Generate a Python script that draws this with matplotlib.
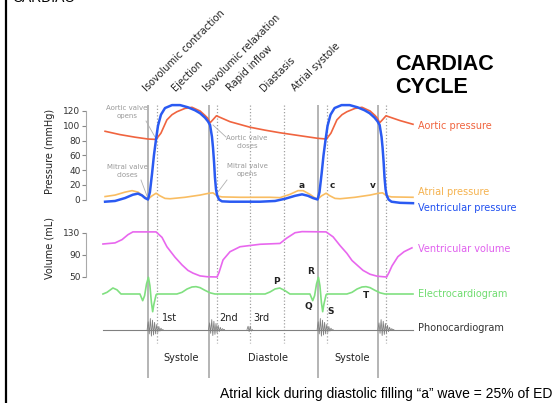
import matplotlib.pyplot as plt
from matplotlib.lines import Line2D

# time axis in ms (one heartbeat = 800 ms), pressures in mmHg, volume in mL
aortic_t = [-202, -132, -61, 0, 38, 61, 89, 113, 136, 174, 207, 245, 268, 282, 292, 305, 322,
            386, 480, 551, 621, 715, 798, 840, 861, 889, 913, 936, 974, 1007, 1045, 1068,
            1080, 1090, 1103, 1120, 1186, 1247]
aortic_p = [92.5, 88, 84.5, 82, 81.5, 90, 108, 115, 119, 123.5, 125, 120, 114, 110, 104, 108, 113.5,
            105.5, 98, 94, 90.5, 86.5, 83, 82, 90, 108, 115, 119, 123.5, 125, 120, 114,
            110, 104, 108, 113.5, 107, 102]

vent_t = [-202, -155, -108, -71, -47, -28, -14, 0, 9, 19, 28, 38, 47, 61, 80, 113, 151, 188,
          221, 245, 268, 282, 292, 301, 306, 311, 315, 320, 325, 334, 348, 386, 527, 598, 645,
          692, 725, 753, 776, 798, 807, 817, 826, 836, 845, 859, 878, 911, 949, 986, 1019,
          1043, 1066, 1080, 1090, 1099, 1104, 1109, 1113, 1118, 1123, 1132, 1146, 1186, 1247]
vent_p = [-3, -2, 2, 6.5, 8, 5.5, 2, 0, 10, 35, 60, 82, 100, 115, 124, 128, 128, 125,
          121, 117, 111, 106, 101, 85, 70, 50, 30, 14, 6, 0, -2.5, -3, -3, -2, 1,
          5, 7, 5, 2, 0, 10, 35, 60, 82, 100, 115, 124, 128, 128, 125, 121,
          117, 111, 106, 101, 85, 70, 50, 30, 14, 6, 0, -3, -4.5, -5]

atrial_t = [-202, -155, -108, -75, -47, -19, 0, 19, 38, 56, 80, 104, 174, 245, 287, 306, 325,
            348, 433, 574, 621, 668, 706, 730, 762, 786, 798, 817, 838, 856, 880, 904, 974,
            1045, 1085, 1104, 1123, 1146, 1247]
atrial_p = [4, 6, 10, 12, 10, 4, 0.5, 5, 8.5, 5, 1.5, 1, 3, 6, 8.5, 9, 5,
            3.5, 3, 3, 2.5, 7, 12, 12, 7, 2, 0.5, 5, 8.5, 5, 1.5, 1, 3,
            6, 8.5, 9, 5, 3.5, 3]

vol_t = [-212, -155, -122, -94, -71, 38, 66, 89, 127, 160, 188, 212, 245, 278, 325, 334, 353,
         386, 433, 527, 621, 654, 692, 725, 838, 871, 904, 936, 960, 983, 1012, 1045, 1078,
         1106, 1123, 1134, 1148, 1176, 1205, 1242]
vol_ml = [110, 112, 118, 127, 132, 132, 122, 105, 86, 72, 62, 57, 52, 50.5, 50, 58, 81,
          96, 105, 109.5, 111, 121, 130.5, 132.5, 132, 123, 107, 93, 80, 72, 62, 55, 51.5,
          50.5, 50, 58, 70, 87, 96, 103]

ecg_t = [-212, -193, -165, -146, -127, -38, -25, -16, -7, 2, 9, 16, 22, 28, 38, 42,
         136, 160, 184, 207, 226, 245, 268, 292, 315, 551, 574, 598, 620, 645, 668,
         762, 775, 784, 793, 802, 809, 816, 822, 828, 838, 842,
         936, 960, 984, 1007, 1026, 1045, 1068, 1092, 1115, 1247]
ecg_mv = [0, 0.1, 0.36, 0.25, 0, 0, -0.4, -0.1, 0.6, 1.0, 0.5, -0.5, -1.06, -0.6, -0.05, 0,
          0, 0.1, 0.3, 0.42, 0.44, 0.38, 0.22, 0.07, 0, 0, 0.12, 0.3, 0.36, 0.2, 0,
          0, -0.4, -0.1, 0.6, 1.0, 0.5, -0.5, -1.06, -0.6, -0.05, 0,
          0, 0.1, 0.3, 0.42, 0.44, 0.38, 0.22, 0.07, 0, 0]

# heart sounds: recorded burst shape and onset times
burst_dt = [0, 5, 10, 15, 20, 25, 30, 35, 40, 45, 50, 55, 60, 65, 70, 75]
s1_amp = [0, 0.7, -0.4, 1.0, -0.6, 0.85, -0.5, 0.65, -0.4, 0.45, -0.28, 0.28, -0.15, 0.12, -0.05, 0]
s2_amp = [0, 0.6, -0.35, 0.9, -0.55, 0.75, -0.45, 0.55, -0.32, 0.38, -0.2, 0.2, -0.1, 0.08, -0.03, 0]
s3_dt = [0, 5, 10, 15, 20, 25]
s3_amp = [0, 0.3, -0.2, 0.3, -0.15, 0]
s1_onsets = [-4, 796]
s2_onsets = [285, 1082]
s3_onsets = [466]

valve_solid = [0, 288, 798, 1084]
phase_dotted = [40, 325, 480, 640, 840, 1120]

W, H = 555, 403


def ms(x):
    # horizontal pixel -> time (ms)
    return (x - 148) * 800 / 170


fig = plt.figure(figsize=(W / 100, H / 100), dpi=100)
base = fig.add_axes([0, 0, 1, 1])
base.set_xlim(ms(0), ms(W))
base.set_ylim(H, 0)
base.axis('off')


def overlay(y0, v0, y1, v1):
    a = fig.add_axes([0, 0, 1, 1])
    scale = (y0 - y1) / (v1 - v0)
    a.set_xlim(ms(0), ms(W))
    a.set_ylim(v0 - (H - y0) / scale, v0 + y0 / scale)
    a.patch.set_visible(False)
    for s in a.spines.values():
        s.set_visible(False)
    a.set_xticks([])
    a.set_yticks([])
    return a


ax_p = overlay(199.5, 0, 111, 120)
ax_v = overlay(277, 50, 233, 130)
ax_e = overlay(294, 0, 277.3, 1.0)
ax_s = overlay(329.5, 0, 318.5, 1.0)

for a, ticks in ((ax_p, [0, 20, 40, 60, 80, 100, 120]), (ax_v, [50, 90, 130])):
    sp = a.spines['left']
    sp.set_visible(True)
    sp.set_position(('data', ms(86)))
    sp.set_bounds(ticks[0], ticks[-1])
    sp.set_color('#aaaaaa')
    sp.set_linewidth(0.8)
    a.set_yticks(ticks)
    a.tick_params(axis='y', direction='out', length=3, width=0.8, color='#888888',
                  labelcolor='#333333', labelsize=6.5, pad=1)

# valve / phase markers
base.vlines(valve_solid, 105, 378, color='#a0a0a0', lw=1.1, zorder=1)
base.vlines(phase_dotted, 105, 343, color='#a0a0a0', lw=0.9, linestyles=(0, (1, 1.6)), zorder=1)

# curves
ax_p.plot(aortic_t, aortic_p, color='#f0643f', lw=1.2, zorder=3)
ax_p.plot(atrial_t, atrial_p, color='#f9bd62', lw=1.2, zorder=3)
ax_p.plot(vent_t, vent_p, color='#2a5af2', lw=1.8, zorder=4)
ax_v.plot(vol_t, vol_ml, color='#e867ee', lw=1.2)
ax_e.plot(ecg_t, ecg_mv, color='#80e080', lw=1.2)
ax_s.plot([-212, 1247], [0, 0], color='#808080', lw=0.8)
for onsets, dt, amp in ((s1_onsets, burst_dt, s1_amp), (s2_onsets, burst_dt, s2_amp),
                        (s3_onsets, s3_dt, s3_amp)):
    for t0 in onsets:
        ax_s.plot([t0 + d for d in dt], amp, color='#808080', lw=0.6)

# axis titles
base.text(ms(50), 151, 'Pressure (mmHg)', rotation=90, ha='center', va='center',
          fontsize=7, color='#222222')
base.text(ms(50), 248, 'Volume (mL)', rotation=90, ha='center', va='center',
          fontsize=7, color='#222222')

# phase names along the top
phases = [('Isovolumic contraction', 148), ('Ejection', 177), ('Isovolumic relaxation', 208),
          ('Rapid inflow', 232), ('Diastasis', 265), ('Atrial systole', 297)]
for name, x in phases:
    base.text(ms(x), 93, name, rotation=45, rotation_mode='anchor', ha='left', va='bottom',
              fontsize=7, color='#222222')

# curve names on the right
right_labels = [('Aortic pressure', 126, '#f0643f'), ('Atrial pressure', 192, '#f5b24e'),
                ('Ventricular pressure', 208, '#2050f0'), ('Ventricular volume', 249, '#e060ee'),
                ('Electrocardiogram', 294, '#70dc70'), ('Phonocardiogram', 328, '#333333')]
for name, y, c in right_labels:
    base.text(ms(418), y, name, ha='left', va='center', fontsize=7, color=c)

# valve events
valve_notes = [('Aortic valve\nopens', 127, 112, (146, 121), (155, 137)),
               ('Aortic valve\ncloses', 247, 142, (213, 125), (226, 137)),
               ('Mitral valve\ncloses', 127, 171, (141, 180), (147, 196)),
               ('Mitral valve\nopens', 247, 170, (227, 180), (218, 192))]
for txt, x, y, p0, p1 in valve_notes:
    base.text(ms(x), y, txt, ha='center', va='center', fontsize=5, color='#9a9a9a',
              linespacing=1.3)
    base.plot([ms(p0[0]), ms(p1[0])], [p0[1], p1[1]], color='#b0b0b0', lw=0.6)

# wave letters
for s, x, y in (('a', 302, 185), ('c', 332, 185), ('v', 373, 185),
                ('P', 276, 282), ('R', 311, 272), ('Q', 308, 307), ('S', 331, 312),
                ('T', 366, 295)):
    base.text(ms(x), y, s, ha='center', va='center', fontsize=6.5, fontweight='bold',
              color='#222222')

for s, x, y in (('1st', 170, 318), ('2nd', 229, 318), ('3rd', 261, 318),
                ('Systole', 181, 358), ('Diastole', 268, 358), ('Systole', 352, 358)):
    base.text(ms(x), y, s, ha='center', va='center', fontsize=7, color='#222222')

# headings and note
base.text(ms(395), 54, 'CARDIAC\nCYCLE', ha='left', va='top', fontsize=15.5,
          fontweight='bold', family='Liberation Sans', linespacing=1.15)
base.text(ms(12), 2.5, 'CARDIAC', ha='left', va='baseline', fontsize=10,
          family='Liberation Sans')
base.text(ms(220), 398, 'Atrial kick during diastolic filling \u201ca\u201d wave = 25% of ED',
          ha='left', va='baseline', fontsize=10, family='Liberation Sans')
fig.add_artist(Line2D([6 / W, 6 / W], [0, 1], color='black', lw=1.6))

fig.savefig('out.png', dpi=100)
